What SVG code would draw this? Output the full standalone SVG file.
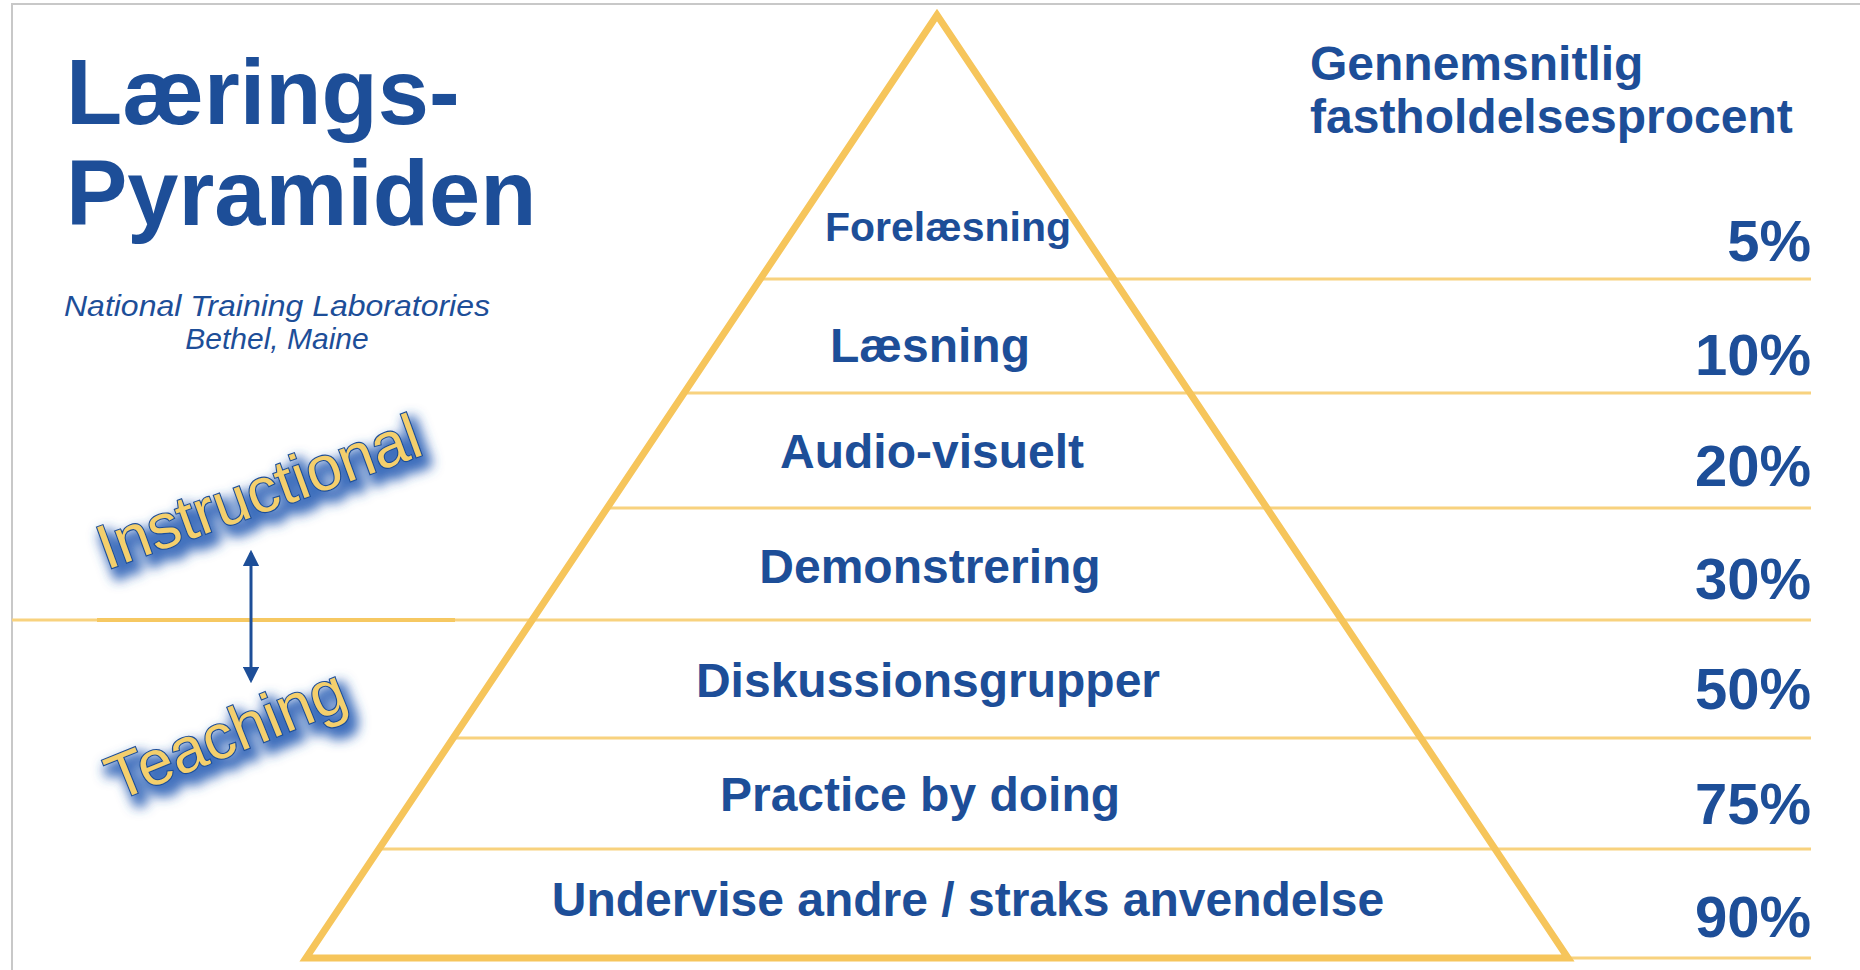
<svg xmlns="http://www.w3.org/2000/svg" width="1860" height="970" viewBox="0 0 1860 970">
<defs>
<style>
.t{font-family:"Liberation Sans",Arial,sans-serif;fill:#1D4E98}
.title{font-size:92px;font-weight:bold}
.sub{font-size:30px;font-style:italic;text-anchor:middle}
.hdr{font-size:48px;font-weight:bold}
.lbl{font-size:48px;font-weight:bold;text-anchor:middle}
.pct{font-size:58px;font-weight:bold;text-anchor:end}
.row{stroke:#F8D27E;stroke-width:3;fill:none}
.side{font-family:"Liberation Sans",Arial,sans-serif;font-size:63px;fill:#F4CF6C;stroke:#1D4E98;stroke-width:2.2;paint-order:stroke}
</style>
<filter id="glow" x="-20%" y="-50%" width="140%" height="200%">
<feMorphology in="SourceAlpha" operator="dilate" radius="3" result="d"/>
<feGaussianBlur in="d" stdDeviation="6" result="b"/>
<feOffset in="b" dx="6" dy="8" result="o"/>
<feFlood flood-color="#2A5FB5" flood-opacity="0.9"/>
<feComposite in2="o" operator="in" result="s"/>
<feMerge><feMergeNode in="s"/><feMergeNode in="SourceGraphic"/></feMerge>
</filter>
<marker id="ah" viewBox="0 0 10 10" refX="8" refY="5" markerWidth="5.5" markerHeight="5.5" orient="auto-start-reverse">
<path d="M0,0 L10,5 L0,10 z" fill="#1D4E98"/>
</marker>
</defs>
<rect x="0" y="0" width="1860" height="970" fill="#FFFFFF"/>
<path d="M12,970 L12,4 L1860,4" fill="none" stroke="#C8C8C8" stroke-width="2"/>

<g id="rows">
<line class="row" x1="760" y1="279" x2="1811" y2="279"/>
<line class="row" x1="684" y1="393" x2="1811" y2="393"/>
<line class="row" x1="607" y1="508" x2="1811" y2="508"/>
<line class="row" x1="12" y1="620" x2="1811" y2="620"/>
<line x1="97" y1="620" x2="455" y2="620" stroke="#F6C862" stroke-width="4"/>
<line class="row" x1="453" y1="738" x2="1811" y2="738"/>
<line class="row" x1="379" y1="849" x2="1811" y2="849"/>
<line class="row" x1="1568" y1="958" x2="1811" y2="958"/>
</g>
<g id="pyramid">
<polygon points="937,15 306,958 1568,958" fill="none" stroke="#F6C55B" stroke-width="7" stroke-linejoin="miter"/>
</g>

<g id="title">
<text class="t title" x="66" y="124">Lærings-</text>
<text class="t title" x="66" y="225">Pyramiden</text>
</g>
<g id="source">
<text class="t sub" x="277" y="316" textLength="426" lengthAdjust="spacingAndGlyphs">National Training Laboratories</text>
<text class="t sub" x="277" y="349">Bethel, Maine</text>
</g>
<g id="header">
<text class="t hdr" x="1310" y="80">Gennemsnitlig</text>
<text class="t hdr" x="1310" y="133">fastholdelsesprocent</text>
</g>

<g id="level1"><text class="t lbl" x="948" y="241" style="font-size:41px">Forelæsning</text><text class="t pct" x="1811" y="261">5%</text></g>
<g id="level2"><text class="t lbl" x="930" y="362">Læsning</text><text class="t pct" x="1811" y="375">10%</text></g>
<g id="level3"><text class="t lbl" x="932" y="468">Audio-visuelt</text><text class="t pct" x="1811" y="486">20%</text></g>
<g id="level4"><text class="t lbl" x="930" y="583">Demonstrering</text><text class="t pct" x="1811" y="599">30%</text></g>
<g id="level5"><text class="t lbl" x="928" y="697">Diskussionsgrupper</text><text class="t pct" x="1811" y="709">50%</text></g>
<g id="level6"><text class="t lbl" x="920" y="811">Practice by doing</text><text class="t pct" x="1811" y="824">75%</text></g>
<g id="level7"><text class="t lbl" x="968" y="916">Undervise andre / straks anvendelse</text><text class="t pct" x="1811" y="937">90%</text></g>

<g id="instructional" filter="url(#glow)">
<text class="side" x="0" y="0" text-anchor="middle" transform="translate(266,512) rotate(-20)">Instructional</text>
</g>
<g id="teaching" filter="url(#glow)">
<text class="side" x="0" y="0" text-anchor="middle" transform="translate(234,754) rotate(-22)">Teaching</text>
</g>

<g id="connectors">
<line x1="251" y1="553" x2="251" y2="680" stroke="#1D4E98" stroke-width="3" marker-start="url(#ah)" marker-end="url(#ah)"/>
</g>
</svg>
